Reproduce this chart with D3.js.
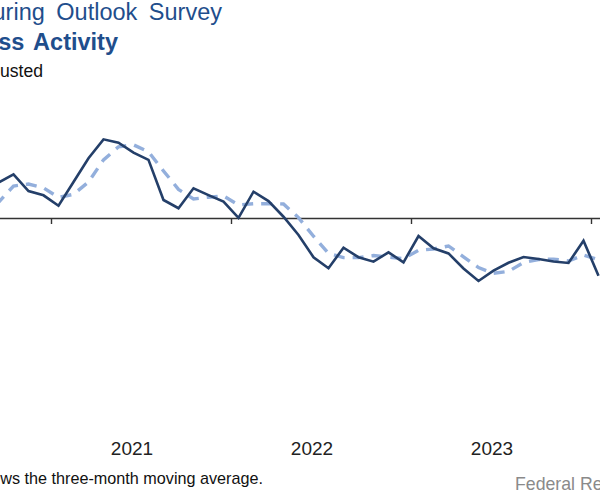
<!DOCTYPE html>
<html>
<head>
<meta charset="utf-8">
<script src="https://cdn.jsdelivr.net/npm/d3@7"></script>
<style>
  html, body { margin: 0; padding: 0; background: #fff; }
  svg { display: block; font-family: "Liberation Sans", Arial, sans-serif; }
</style>
</head>
<body>
<svg id="chart" width="600" height="498"></svg>
<script>
// ---- Data ----
const months = ["2020-08","2020-09","2020-10","2020-11","2020-12",
  "2021-01","2021-02","2021-03","2021-04","2021-05","2021-06","2021-07","2021-08","2021-09","2021-10","2021-11","2021-12",
  "2022-01","2022-02","2022-03","2022-04","2022-05","2022-06","2022-07","2022-08","2022-09","2022-10","2022-11","2022-12",
  "2023-01","2023-02","2023-03","2023-04","2023-05","2023-06","2023-07","2023-08","2023-09","2023-10","2023-11","2023-12",
  "2024-01"];
const activity = [8.0, 16.7, 20.6, 12.7, 10.7,
  5.8, 17.0, 28.2, 37.1, 35.5, 30.8, 27.4, 8.5, 4.6, 14.0, 10.8, 7.7,
  0.1, 12.4, 8.0, 0.6, -8.0, -18.5, -23.7, -14.0, -18.5, -20.6, -16.2, -20.9,
  -8.5, -14.3, -16.7, -23.8, -29.7, -24.8, -21.1, -18.4, -19.3, -20.5, -21.2, -10.7,
  -27.2];
const movingAvg = [-0.4, 7.4, 15.1, 16.0, 14.2,
  9.7, 11.2, 17.0, 27.4, 33.6, 34.5, 31.2, 22.2, 13.5, 9.0, 9.8, 10.4,
  6.2, 6.7, 6.8, 6.6, 0.2, -8.6, -16.7, -18.7, -18.7, -17.7, -18.4, -19.2,
  -15.2, -14.6, -13.2, -18.3, -23.4, -26.1, -25.2, -21.0, -19.6, -19.4, -20.3, -17.5,
  -19.7];
const yearTicks = [2020, 2021, 2022, 2023, 2024];
const yearLabels = ["2021", "2022", "2023"];
const titleLine1 = "Texas Manufacturing Outlook Survey";
const titleLine2 = "General Business Activity";
const subtitle = "Seasonally adjusted";
const noteText = "NOTE: Dashed line shows the three-month moving average.";
const sourceText = "Federal Reserve Bank of Dallas";

// ---- Helpers ----
// months since Jan 2021 (start of month)
const monthIndex = s => { const [y, m] = s.split("-").map(Number); return (y - 2021) * 12 + (m - 1); };

const svg = d3.select("#chart");

// x: month offset from Jan 2021 -> pixels (15 px per month, Jan 2021 at x=51)
const x = d3.scaleLinear().domain([-12, 48]).range([-129, 771]);
const y = d3.scaleLinear().domain([-40, 45]).range([302.8, 122.6]);

// ---- Titles ----
svg.append("text")
  .attr("x", 222).attr("y", 20)
  .attr("text-anchor", "end")
  .attr("font-size", 23.5)
  .attr("word-spacing", 5)
  .attr("fill", "#1f4e8c")
  .text(titleLine1);
svg.append("text")
  .attr("x", 118).attr("y", 50)
  .attr("text-anchor", "end")
  .attr("font-size", 23.5)
  .attr("font-weight", "bold")
  .attr("word-spacing", 3)
  .attr("fill", "#1f4e8c")
  .text(titleLine2);
svg.append("text")
  .attr("x", 43).attr("y", 77)
  .attr("text-anchor", "end")
  .attr("font-size", 17.6)
  .attr("fill", "#111")
  .text(subtitle);

// ---- Axis at zero ----
const axis = d3.axisBottom(x)
  .tickValues(yearTicks.map(yr => (yr - 2021) * 12))
  .tickSize(6)
  .tickSizeOuter(0)
  .tickFormat("");
const ax = svg.append("g")
  .attr("transform", `translate(0,${y(0)})`)
  .call(axis);
ax.select(".domain").attr("stroke", "#333").attr("stroke-width", 1.4);
ax.selectAll(".tick line").attr("stroke", "#333").attr("stroke-width", 1.4);

// Year labels
svg.append("g").selectAll("text")
  .data(yearLabels)
  .join("text")
  .attr("x", d => x((+d - 2021) * 12 + 5.4))
  .attr("y", 455)
  .attr("text-anchor", "middle")
  .attr("font-size", 19)
  .attr("fill", "#222")
  .text(d => d);

// ---- Lines ----
const pts = (vals) => months.map((m, i) => ({ t: monthIndex(m) + 0.5, v: vals[i] }));
const line = d3.line().x(d => x(d.t)).y(d => y(d.v));

svg.append("path")
  .datum(pts(movingAvg))
  .attr("d", line)
  .attr("fill", "none")
  .attr("stroke", "#93afdc")
  .attr("stroke-width", 3.4)
  .attr("stroke-dasharray", "11,8");

svg.append("path")
  .datum(pts(activity))
  .attr("d", line)
  .attr("fill", "none")
  .attr("stroke", "#243f69")
  .attr("stroke-width", 2.6)
  .attr("stroke-linejoin", "miter");

// ---- Footer ----
svg.append("text")
  .attr("x", 263).attr("y", 484)
  .attr("text-anchor", "end")
  .attr("font-size", 16.2)
  .attr("fill", "#111")
  .text(noteText);
svg.append("text")
  .attr("x", 515).attr("y", 490)
  .attr("font-size", 17.7)
  .attr("fill", "#8a8a8a")
  .text(sourceText);
</script>
</body>
</html>
